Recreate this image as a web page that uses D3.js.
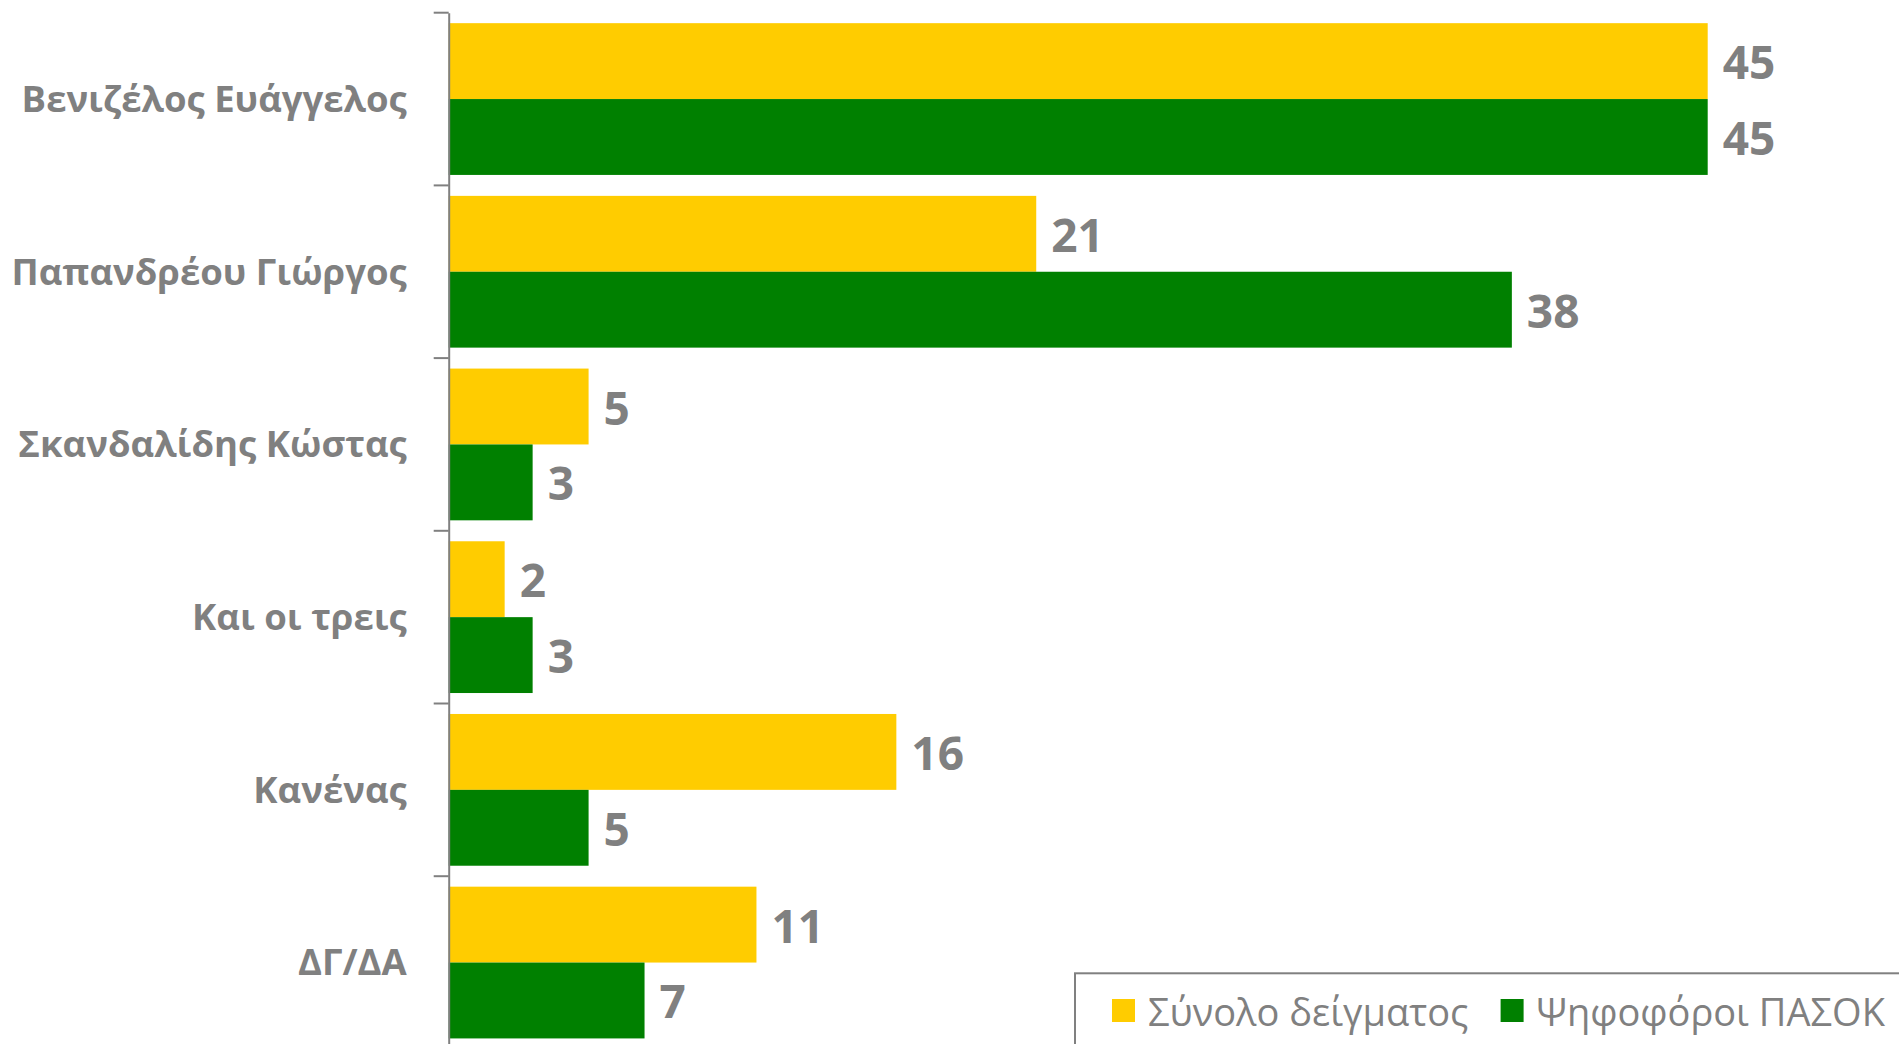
<!DOCTYPE html>
<html><head><meta charset="utf-8">
<script src="https://cdn.jsdelivr.net/npm/d3@7"></script>
<style>
html,body{margin:0;padding:0;background:#fff;overflow:hidden;}
svg{display:block;}
</style></head>
<body>
<svg id="chart" width="1899" height="1044"></svg>
<script>
const categories = ["Βενιζέλος Ευάγγελος","Παπανδρέου Γιώργος","Σκανδαλίδης Κώστας","Και οι τρεις","Κανένας","ΔΓ/ΔΑ"];
const seriesNames = ["Σύνολο δείγματος","Ψηφοφόροι ΠΑΣΟΚ"];
const totalSample = [45,21,5,2,16,11];
const pasokVoters = [45,38,3,3,5,7];
const seriesColors = ["#FFCC00","#008000"];

const svg = d3.select("#chart");
const gray = "#808080";
const x0 = 448.7, yTop = 12.7, band = 172.7;
const x = d3.scaleLinear().domain([0,45]).range([x0, 1707.7]);
const y = d3.scaleBand().domain(categories).range([yTop, yTop + band*categories.length]).padding(0);
const inner = d3.scaleBand().domain(seriesNames).range([0, band]).paddingOuter(0.138).paddingInner(0);

const data = categories.map((c,i)=>({cat:c, vals:[totalSample[i], pasokVoters[i]]}));

const g = svg.append("g");
const groups = g.selectAll("g.cat").data(data).join("g")
  .attr("transform", d=>`translate(0,${y(d.cat)})`);

groups.selectAll("rect").data(d=>d.vals.map((v,j)=>({v, s:seriesNames[j], j}))).join("rect")
  .attr("x", x(0))
  .attr("y", d=>inner(d.s))
  .attr("width", d=>x(d.v)-x(0))
  .attr("height", inner.bandwidth())
  .attr("fill", d=>seriesColors[d.j]);

groups.selectAll("text.val").data(d=>d.vals.map((v,j)=>({v, s:seriesNames[j], j}))).join("text")
  .attr("class","val")
  .attr("x", d=>x(d.v)+15)
  .attr("y", d=>inner(d.s)+inner.bandwidth()/2)
  .attr("dominant-baseline","central")
  .attr("font-family","'Open Sans', sans-serif")
  .attr("font-weight","bold")
  .attr("font-size",46)
  .attr("fill",gray)
  .text(d=>d.v);

// axis
const axis = d3.axisLeft(y).tickSize(0).tickPadding(42);
const ax = svg.append("g").attr("transform",`translate(${x0},0)`).call(axis);
ax.select(".domain").attr("stroke",gray).attr("stroke-width",2);
ax.selectAll(".tick text")
  .attr("font-family","'Open Sans', sans-serif")
  .attr("font-weight","bold")
  .attr("font-size",36.5)
  .attr("fill",gray)
  .attr("dy","0.35em");
// category boundary ticks
const bounds = d3.range(categories.length+1).map(i=>y.range()[0]+i*y.step());
ax.selectAll("line.bt").data(bounds).join("line").attr("class","bt")
  .attr("x1",-15).attr("x2",0).attr("y1",d=>d).attr("y2",d=>d)
  .attr("stroke",gray).attr("stroke-width",2);

// legend
const lg = svg.append("g");
lg.append("rect").attr("x",1075).attr("y",973.3).attr("width",900).attr("height",200)
  .attr("fill","#fff").attr("stroke",gray).attr("stroke-width",2);
const legX = [1112, 1500.6];
seriesNames.forEach((s,j)=>{
  lg.append("rect").attr("x",legX[j]).attr("y",999).attr("width",23).attr("height",23).attr("fill",seriesColors[j]);
  lg.append("text").attr("x",legX[j]+36).attr("y",1010.5).attr("dominant-baseline","central")
    .attr("font-family","'Open Sans', sans-serif").attr("font-size",38).attr("fill",gray).text(s);
});
</script>
</body></html>
